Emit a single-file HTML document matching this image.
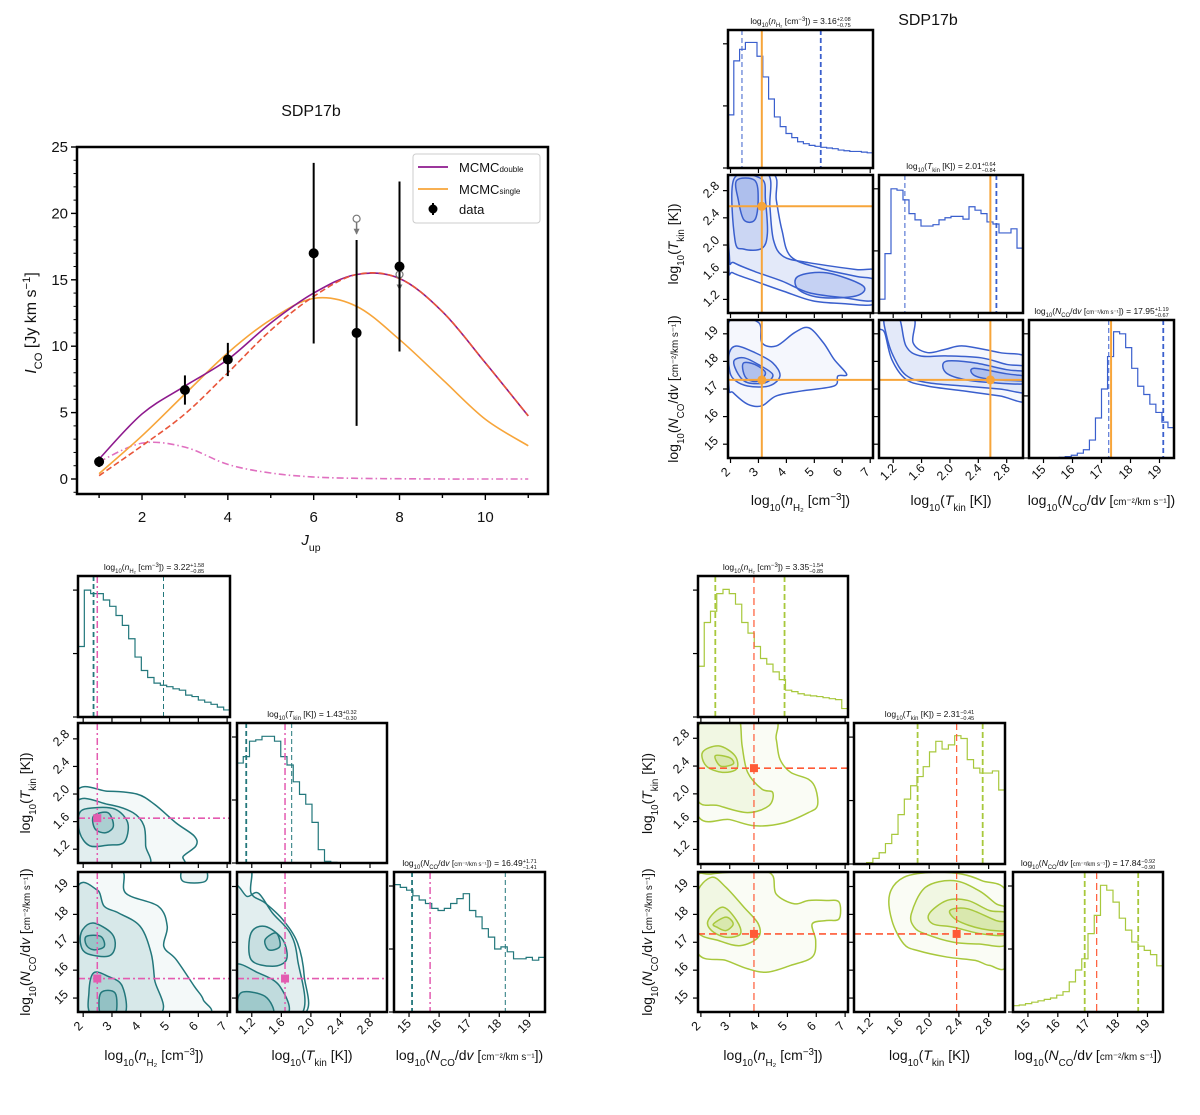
<!DOCTYPE html>
<html><head><meta charset="utf-8">
<style>
html,body{margin:0;padding:0;background:#fff;}
svg{display:block;font-family:"Liberation Sans",sans-serif;}
</style></head>
<body>
<svg id="fig" width="1200" height="1115" viewBox="0 0 1200 1115" xmlns="http://www.w3.org/2000/svg">
<rect width="1200" height="1115" fill="#fff"/>
</svg>
<script>
// ---------- SED chart data ----------
const sedJ = [1,2,3,4,5,6,7,8,9,10,11];
const sedDouble = [1.5,4.9,7.0,9.0,11.75,14.0,15.4,15.1,12.6,8.75,4.75];
const sedHigh = [0.25,2.5,4.9,8.0,11.2,13.75,15.4,15.1,12.6,8.75,4.75];
const sedLow = [1.3,2.7,2.4,1.1,0.45,0.15,0.05,0.02,0,0,0];
const sedSingle = [0.4,3.25,6.4,9.5,12.0,13.6,13.0,10.5,7.5,4.5,2.5];
const dataJ = [1,3,4,6,7,8];
const dataI = [1.3,6.7,9.0,17.0,11.0,16.0];
const dataErr = [0.4,1.1,1.25,6.8,7.0,6.4];
const limJ = [7,8];
const limI = [19.6,15.4];
const sedYTicks = [0,5,10,15,20,25];
const sedXTicks = [2,4,6,8,10];

// ---------- corner data: top-right (blue) ----------
const trHistNH = [0.385,0.776,0.86,0.91,0.91,0.81,0.66,0.5,0.37,0.3,0.25,0.22,0.19,0.176,0.164,0.157,0.15,0.145,0.14,0.13,0.125,0.12,0.12,0.115,0.11];
const trHistT = [0.1,0.43,0.9,0.89,0.82,0.72,0.675,0.63,0.63,0.64,0.675,0.69,0.7,0.7,0.68,0.77,0.745,0.72,0.66,0.645,0.58,0.58,0.61,0.47];
const trHistN = [0,0,0,0,0,0.005,0.01,0.02,0.035,0.06,0.13,0.29,0.5,0.735,0.915,0.9,0.8,0.65,0.52,0.46,0.39,0.33,0.26,0.22];
const trQuant = [[2.41,5.23],[1.365,2.655],[17.25,19.13]];
const trTruth = [3.12,2.57,17.33];
const trC_T_NH = [
 [[1.94,3.05],[3.51,3.05],[3.64,2.66],[3.84,2.22],[4.16,1.83],[5.19,1.66],[6.48,1.54],[7.2,1.47],[7.2,1.14],[5.97,1.14],[4.93,1.18],[3.90,1.32],[2.87,1.47],[2.09,1.59],[1.94,1.69]],
 [[1.96,3.05],[3.32,3.05],[3.41,2.56],[3.54,2.07],[3.90,1.83],[4.80,1.74],[6.48,1.64],[7.2,1.61],[7.2,1.20],[5.97,1.23],[4.80,1.30],[3.84,1.47],[2.87,1.61],[2.12,1.74],[1.96,1.83]],
 [[2.12,2.97],[3.12,2.97],[3.25,2.66],[3.32,2.17],[3.12,1.95],[2.48,1.94],[2.16,2.07]],
 [[4.42,1.54],[5.45,1.59],[6.74,1.40],[6.48,1.25],[5.19,1.23],[4.42,1.35]],
 [[2.22,2.95],[2.87,2.95],[2.99,2.66],[2.87,2.37],[2.48,2.37],[2.28,2.66]]
];
const trC_N_NH = [
 [[1.94,19.42],[2.99,19.42],[3.12,18.68],[3.64,18.56],[4.29,19.04],[4.80,19.22],[5.32,18.68],[5.71,18.07],[6.16,17.53],[5.84,17.47],[5.71,17.11],[4.55,16.93],[3.64,16.75],[3.12,16.39],[2.61,16.45],[2.09,16.87],[1.94,17.11]],
 [[1.96,18.32],[2.22,18.56],[2.87,18.32],[3.51,17.95],[3.77,17.47],[3.38,17.11],[2.61,17.11],[2.12,17.35],[1.96,17.71]],
 [[2.12,18.01],[2.48,18.13],[2.99,17.89],[3.51,17.53],[3.25,17.23],[2.61,17.23],[2.28,17.53]],
 [[2.48,17.95],[2.87,17.89],[3.25,17.59],[2.99,17.29],[2.61,17.35],[2.45,17.65]]
];
const trC_N_T = [
 [[1.0,19.6],[1.48,19.6],[1.48,18.68],[1.68,18.32],[1.94,18.44],[2.19,18.56],[2.70,18.32],[3.1,18.07],[3.1,16.6],[2.70,16.75],[2.19,16.93],[1.68,17.11],[1.38,17.35],[1.18,18.07],[1.08,19.04],[1.0,19.2]],
 [[1.08,19.6],[1.28,19.6],[1.38,18.56],[1.58,18.2],[1.94,18.2],[2.44,18.13],[2.80,17.89],[3.1,17.75],[3.1,16.9],[2.70,17.0],[2.19,17.11],[1.68,17.23],[1.38,17.5],[1.20,18.2],[1.10,19.0]],
 [[1.94,18.0],[2.34,17.95],[2.80,17.7],[3.1,17.6],[3.1,17.2],[2.59,17.23],[2.19,17.35],[1.94,17.6]],
 [[2.34,17.75],[2.80,17.55],[3.1,17.45],[3.1,17.3],[2.59,17.35],[2.34,17.5]]
];

// ---------- corner data: bottom-left (teal) ----------
const blHistNH = [0.5,0.9,0.875,0.875,0.83,0.785,0.72,0.65,0.555,0.425,0.33,0.28,0.24,0.225,0.215,0.2,0.19,0.155,0.145,0.12,0.105,0.09,0.07,0.05];
const blHistT = [0.714,0.76,0.87,0.88,0.905,0.905,0.87,0.76,0.70,0.58,0.49,0.42,0.29,0.095,0.012,0.005,0.002,0,0,0,0,0,0,0];
const blHistN = [0.91,0.89,0.87,0.83,0.8,0.775,0.74,0.725,0.74,0.775,0.81,0.845,0.725,0.68,0.595,0.535,0.45,0.465,0.43,0.38,0.38,0.39,0.37,0.39];
const blQuant = [[2.36,4.79],[1.125,1.74],[15.1,18.2]];
const blTruth = [2.49,1.65,15.7];
const blC_T_NH = [
 [[1.75,2.02],[2.86,2.04],[3.86,2.0],[4.48,1.85],[5.23,1.58],[5.86,1.39],[5.92,1.25],[5.48,1.10],[5.23,0.95],[1.75,0.95]],
 [[1.75,1.87],[2.86,1.85],[3.73,1.73],[4.11,1.54],[4.17,1.25],[4.17,0.95],[1.75,0.95]],
 [[1.88,1.73],[2.36,1.80],[3.11,1.78],[3.55,1.58],[3.42,1.30],[2.86,1.26],[2.23,1.25],[1.88,1.44]],
 [[2.36,1.68],[2.86,1.73],[3.05,1.54],[2.80,1.44],[2.42,1.49]]
];
const blC_N_NH = [
 [[1.75,19.6],[3.30,19.6],[3.48,18.76],[4.61,18.29],[4.92,17.57],[4.80,16.85],[5.23,16.38],[5.86,15.42],[6.17,14.94],[6.11,14.4],[1.75,14.4]],
 [[5.48,19.6],[6.23,19.6],[6.23,19.18],[5.48,19.18]],
 [[1.75,18.76],[2.48,18.88],[2.73,18.29],[3.23,18.05],[3.98,17.57],[4.36,16.61],[4.48,15.66],[4.61,14.4],[1.75,14.4]],
 [[1.98,17.45],[2.36,17.69],[2.98,17.33],[3.11,16.85],[2.86,16.5],[2.11,16.61],[1.9,17.0]],
 [[2.36,15.9],[2.86,15.78],[3.36,15.42],[3.42,14.4],[2.3,14.4],[2.2,15.2]],
 [[2.11,17.21],[2.61,17.21],[2.73,16.85],[2.36,16.73],[2.11,16.9]],
 [[2.61,15.18],[3.11,15.18],[3.11,14.4],[2.61,14.4]]
];
const blC_N_T = [
 [[0.95,19.6],[1.19,19.6],[1.19,18.76],[1.38,18.41],[1.62,17.81],[1.82,16.97],[1.91,15.78],[1.89,14.4],[0.95,14.4]],
 [[0.95,18.76],[1.14,18.64],[1.29,18.76],[1.48,18.05],[1.72,17.33],[1.82,16.38],[1.86,14.4],[0.95,14.4]],
 [[1.19,17.33],[1.38,17.57],[1.62,17.09],[1.67,16.38],[1.48,16.14],[1.19,16.38]],
 [[0.95,16.14],[1.29,15.9],[1.58,15.42],[1.67,14.4],[0.95,14.4]],
 [[1.38,17.09],[1.53,17.33],[1.58,16.85],[1.43,16.73]],
 [[1.05,15.18],[1.38,15.06],[1.48,14.4],[1.05,14.4]]
];

// ---------- corner data: bottom-right (green) ----------
const brHistNH = [0.36,0.67,0.75,0.875,0.905,0.875,0.80,0.67,0.595,0.5,0.415,0.375,0.32,0.265,0.19,0.18,0.165,0.155,0.15,0.145,0.137,0.13,0.123,0.06];
const brHistT = [0,0,0.01,0.04,0.08,0.145,0.21,0.35,0.46,0.555,0.62,0.69,0.795,0.87,0.815,0.845,0.91,0.89,0.74,0.68,0.645,0.645,0.66,0.525];
const brHistN = [0.045,0.05,0.06,0.07,0.08,0.09,0.1,0.12,0.145,0.215,0.3,0.38,0.56,0.69,0.905,0.87,0.785,0.67,0.585,0.5,0.47,0.44,0.41,0.33];
const brQuant = [[2.5,4.9],[1.845,2.72],[16.9,18.69]];
const brTruth = [3.84,2.37,17.3];
const brC_T_NH = [
 [[1.85,3.1],[4.43,3.1],[4.61,2.79],[4.74,2.5],[5.11,2.31],[5.73,2.21],[5.98,2.07],[6.04,1.83],[5.73,1.73],[4.86,1.58],[3.87,1.54],[3.0,1.63],[1.85,1.73]],
 [[1.85,2.93],[2.75,3.1],[3.31,3.1],[3.43,2.69],[3.62,2.31],[4.11,2.07],[4.49,2.02],[4.36,1.83],[3.62,1.73],[2.62,1.83],[1.85,1.95]],
 [[2.06,2.60],[2.62,2.69],[3.18,2.55],[3.24,2.36],[2.75,2.31],[2.19,2.40]],
 [[2.5,2.55],[3.0,2.52],[3.12,2.43],[2.68,2.40]]
];
const brC_N_NH = [
 [[1.85,19.21],[2.37,19.45],[3.99,19.55],[4.49,19.39],[4.61,18.73],[5.23,18.38],[5.73,18.5],[6.35,18.5],[6.79,18.44],[6.79,17.84],[6.35,17.78],[5.86,17.66],[5.98,17.06],[5.86,16.47],[5.11,16.17],[4.30,15.93],[3.62,16.05],[2.87,16.35],[1.85,16.7]],
 [[1.85,18.73],[2.37,19.33],[2.87,18.97],[3.49,18.26],[3.99,17.66],[3.99,17.18],[3.37,16.88],[2.62,17.06],[1.85,17.42]],
 [[2.25,17.78],[2.75,18.26],[3.24,17.78],[3.37,17.3],[2.87,17.18],[2.37,17.42]],
 [[2.44,17.66],[2.87,17.9],[3.12,17.66],[2.87,17.42],[2.56,17.54]]
];
const brC_N_T = [
 [[1.47,18.73],[1.66,19.33],[2.05,19.51],[2.43,19.45],[2.71,19.21],[3.05,18.73],[3.05,16.23],[2.81,16.17],[2.62,16.35],[2.24,16.47],[1.85,16.7],[1.66,16.94],[1.50,17.78]],
 [[1.76,18.02],[1.95,18.97],[2.33,19.21],[2.67,18.85],[2.90,18.38],[3.05,18.14],[3.05,16.94],[2.67,16.94],[2.33,17.0],[1.95,17.3],[1.80,17.54]],
 [[2.0,18.02],[2.24,18.5],[2.52,18.5],[2.81,18.14],[3.05,18.02],[3.05,17.3],[2.71,17.3],[2.33,17.54],[2.05,17.66]],
 [[2.28,18.14],[2.52,18.2],[2.90,17.78],[3.05,17.72],[3.05,17.42],[2.71,17.48],[2.38,17.78]]
];

const ticksNH = [2,3,4,5,6,7];
const ticksT = [1.2,1.6,2.0,2.4,2.8];
const ticksN = [15,16,17,18,19];
const tickLabelsT = ['1.2','1.6','2.0','2.4','2.8'];

// ---------- helpers ----------
const NS = 'http://www.w3.org/2000/svg';
const svg = document.getElementById('fig');
function mk(tag, parent, attrs){
  const e = document.createElementNS(NS, tag);
  for (const k in attrs) e.setAttribute(k, attrs[k]);
  parent.appendChild(e);
  return e;
}
function crPath(pts, closed){
  const n = pts.length;
  if (n < 2) return '';
  let d = 'M' + pts[0][0].toFixed(2) + ',' + pts[0][1].toFixed(2);
  const get = i => closed ? pts[(i + n) % n] : pts[Math.max(0, Math.min(n - 1, i))];
  const last = closed ? n : n - 1;
  for (let i = 0; i < last; i++){
    const p0 = get(i - 1), p1 = get(i), p2 = get(i + 1), p3 = get(i + 2);
    const c1 = [p1[0] + (p2[0] - p0[0]) / 6, p1[1] + (p2[1] - p0[1]) / 6];
    const c2 = [p2[0] - (p3[0] - p1[0]) / 6, p2[1] - (p3[1] - p1[1]) / 6];
    d += 'C' + c1[0].toFixed(2) + ',' + c1[1].toFixed(2) + ' ' + c2[0].toFixed(2) + ',' + c2[1].toFixed(2) + ' ' + p2[0].toFixed(2) + ',' + p2[1].toFixed(2);
  }
  return d + (closed ? 'Z' : '');
}
function lin(d0, d1, r0, r1){ return v => r0 + (v - d0) / (d1 - d0) * (r1 - r0); }
let clipId = 0;
function clipFor(x0, y0, x1, y1){
  let defs = svg.querySelector('defs');
  if (!defs) defs = mk('defs', svg, {});
  const id = 'clip' + (clipId++);
  const cp = mk('clipPath', defs, {id: id});
  mk('rect', cp, {x: x0, y: y0, width: x1 - x0, height: y1 - y0});
  return 'url(#' + id + ')';
}
const SUB = s => '<tspan baseline-shift="sub" font-size="70%">' + s + '</tspan>';
const SUP = s => '<tspan baseline-shift="super" font-size="70%">' + s + '</tspan>';
const labNH = 'log' + SUB('10') + '(<tspan font-style="italic">n</tspan>' + SUB('H₂') + ' [cm' + SUP('−3') + '])';
const labT = 'log' + SUB('10') + '(<tspan font-style="italic">T</tspan>' + SUB('kin') + ' [K])';
const labN = 'log' + SUB('10') + '(<tspan font-style="italic">N</tspan>' + SUB('CO') + '/d<tspan font-style="italic">v</tspan> [' + '<tspan font-size="70%">cm⁻²/km s⁻¹</tspan>' + '])';
const labels = [labNH, labT, labN];

// ---------- SED chart ----------
(function(){
  const X0 = 77, X1 = 548, Y0 = 147, Y1 = 494;
  const sx = lin(0.485, 11.46, X0, X1);
  const sy = lin(0, 25, 479, 147);
  const g = mk('g', svg, {});
  
  
  const t = mk('text', g, {x: 311, y: 116, 'text-anchor': 'middle', 'font-size': 16, fill: '#111'});
  
  
  t.textContent = 'SDP17b';
  const clip = clipFor(X0, Y0, X1, Y1);
  const plot = mk('g', g, {'clip-path': clip});
  
  
  function curve(vals, color, w, dash, name){
    const pts = sedJ.map((j, i) => [sx(j), sy(vals[i])]);
    const p = mk('path', plot, {d: crPath(pts, false), fill: 'none', stroke: color, 'stroke-width': w});
    if (dash) p.setAttribute('stroke-dasharray', dash);
    
    
  }
  curve(sedLow, '#e070c0', 1.6, '7,3,1.5,3', 'low-excitation-component');
  curve(sedSingle, '#f7a53a', 1.6, null, 'mcmc-single-line');
  curve(sedDouble, '#8e1a8e', 1.6, null, 'mcmc-double-line');
  curve(sedHigh, '#e8553a', 1.6, '6,3', 'high-excitation-component');
  limJ.forEach((j, i) => {
    const x = sx(j), y = sy(limI[i]);
    const gg = mk('g', plot, {});
    
    
    mk('line', gg, {x1: x, y1: y + 3, x2: x, y2: y + 15, stroke: '#777', 'stroke-width': 1.5});
    mk('path', gg, {d: 'M' + (x - 3) + ',' + (y + 10) + 'L' + (x + 3) + ',' + (y + 10) + 'L' + x + ',' + (y + 16) + 'Z', fill: '#777'});
    mk('circle', gg, {cx: x, cy: y, r: 3.5, fill: '#fff', stroke: '#777', 'stroke-width': 1.2});
  });
  dataJ.forEach((j, i) => {
    const gg = mk('g', plot, {});
    
    
    mk('line', gg, {x1: sx(j), x2: sx(j), y1: sy(dataI[i] - dataErr[i]), y2: sy(dataI[i] + dataErr[i]), stroke: '#000', 'stroke-width': 2});
    mk('circle', gg, {cx: sx(j), cy: sy(dataI[i]), r: 5, fill: '#000'});
  });
  const fr = mk('rect', g, {x: X0, y: Y0, width: X1 - X0, height: Y1 - Y0, fill: 'none', stroke: '#000', 'stroke-width': 2.5});
  
  
  for (let v = -1; v <= 25; v++){
    const major = v % 5 === 0;
    mk('line', g, {x1: X0 - 1, x2: X0 - (major ? 6 : 3.5), y1: sy(v), y2: sy(v), stroke: '#000', 'stroke-width': major ? 1.4 : 1});
  }
  sedYTicks.forEach(v => {
    const tl = mk('text', g, {x: 68, y: sy(v) + 5, 'text-anchor': 'end', 'font-size': 15, fill: '#111'});
    
    
    tl.textContent = v;
  });
  for (let j = 1; j <= 11; j++){
    mk('line', g, {x1: sx(j), x2: sx(j), y1: Y1 + 1, y2: Y1 + (j % 2 === 0 ? 6 : 4), stroke: '#000', 'stroke-width': 1.4});
  }
  sedXTicks.forEach(v => {
    const tl = mk('text', g, {x: sx(v), y: 522, 'text-anchor': 'middle', 'font-size': 15, fill: '#111'});
    
    
    tl.textContent = v;
  });
  const xl = mk('text', g, {x: 311, y: 545, 'text-anchor': 'middle', 'font-size': 15, fill: '#111'});
  
  
  xl.innerHTML = '<tspan font-style="italic">J</tspan>' + SUB('up');
  const yl = mk('text', g, {x: 0, y: 0, transform: 'translate(36,323) rotate(-90)', 'text-anchor': 'middle', 'font-size': 16, fill: '#111'});
  
  
  yl.innerHTML = '<tspan font-style="italic">I</tspan>' + SUB('CO') + ' [Jy km s' + SUP('−1') + ']';
  const lg = mk('g', g, {});
  
  
  mk('rect', lg, {x: 413, y: 154, width: 127, height: 69, rx: 3, fill: '#fff', stroke: '#ccc', 'stroke-width': 1});
  const entries = [['#8e1a8e', 'MCMC', 'double'], ['#f7a53a', 'MCMC', 'single']];
  entries.forEach((e, i) => {
    const y = 167 + i * 22;
    const le = mk('g', lg, {});
    
    
    mk('line', le, {x1: 418, x2: 448, y1: y, y2: y, stroke: e[0], 'stroke-width': 1.8});
    const tx = mk('text', le, {x: 459, y: y + 5, 'font-size': 13, fill: '#111'});
    tx.innerHTML = e[1] + '<tspan font-size="8">' + e[2] + '</tspan>';
  });
  const le = mk('g', lg, {});
  
  
  mk('line', le, {x1: 433, x2: 433, y1: 203, y2: 215, stroke: '#000', 'stroke-width': 2});
  mk('circle', le, {cx: 433, cy: 209, r: 4.5, fill: '#000'});
  const tx = mk('text', le, {x: 459, y: 214, 'font-size': 13, fill: '#111'});
  tx.textContent = 'data';
})();

// ---------- corner plots ----------
const corners = [
  {id: 'top-right', cols: [[728,873],[879,1023],[1029,1174]], rows: [[30,168],[175,313],[320,458]],
   ranges: [[1.91,7.1],[1.0,3.03],[14.5,19.5]], hists: [trHistNH, trHistT, trHistN], quant: trQuant, truth: trTruth,
   contours: [trC_T_NH, trC_N_NH, trC_N_T], line: '#3a5fcd', fill: '60,100,215', qDash: '5,3', qW: 1.1, qW2: [1,1.8],
   tColor: '#f7a53a', tDash: null, tW: 2, marker: 'circle',
   titles: [' = 3.16' , ' = 2.01', ' = 17.95'], errs: [['+2.08','−0.75'],['+0.64','−0.84'],['+1.19','−0.67']],
   yLabX: 678, xLabY: 505, title: true},
  {id: 'bottom-left', cols: [[78,230],[237,387],[394,545]], rows: [[576,717],[723,863],[872,1012]],
   ranges: [[1.82,7.1],[1.0,3.03],[14.5,19.52]], hists: [blHistNH, blHistT, blHistN], quant: blQuant, truth: blTruth,
   contours: [blC_T_NH, blC_N_NH, blC_N_T], line: '#22777b', fill: '40,135,140', qDash: '5,3', qW: 1.6, qW2: [1.8,1],
   tColor: '#e35bb0', tDash: '7,3,2,3', tW: 1.5, marker: 'square',
   titles: [' = 3.22', ' = 1.43', ' = 16.49'], errs: [['+1.58','−0.85'],['+0.32','−0.30'],['+1.71','−1.41']],
   yLabX: 30, xLabY: 1060},
  {id: 'bottom-right', cols: [[698,848],[854,1005],[1013,1163]], rows: [[576,717],[723,864],[872,1012]],
   ranges: [[1.9,7.1],[0.99,3.02],[14.5,19.52]], hists: [brHistNH, brHistT, brHistN], quant: brQuant, truth: brTruth,
   contours: [brC_T_NH, brC_N_NH, brC_N_T], line: '#a8c83c', fill: '160,200,50', qDash: '6,3', qW: 1.8, qW2: [1.8,1.8],
   tColor: '#ff5a36', tDash: '7,4', tW: 1.2, marker: 'square',
   titles: [' = 3.35', ' = 2.31', ' = 17.84'], errs: [['−1.54','−0.85'],['−0.41','−0.45'],['−0.92','−0.90']],
   yLabX: 652, xLabY: 1060}
];
const tickSets = [ticksNH, ticksT, ticksN];
const tickText = [ticksNH.map(String), tickLabelsT, ticksN.map(String)];

corners.forEach(c => {
  const G = mk('g', svg, {});
  
  
  const sxs = [0,1,2].map(i => lin(c.ranges[i][0], c.ranges[i][1], c.cols[i][0], c.cols[i][1]));
  const sys = [0,1,2].map(i => lin(c.ranges[i][0], c.ranges[i][1], c.rows[i][1], c.rows[i][0]));
  if (c.title){
    const t = mk('text', G, {x: 928, y: 25, 'text-anchor': 'middle', 'font-size': 16, fill: '#111'});
    
    
    t.textContent = 'SDP17b';
  }
  for (let r = 0; r < 3; r++){
    for (let col = 0; col <= r; col++){
      const [x0, x1] = c.cols[col], [y0, y1] = c.rows[r];
      const P = mk('g', G, {});
      
      
      const inner = mk('g', P, {'clip-path': clipFor(x0, y0, x1, y1)});
      const sx = sxs[col];
      if (r === col){
        const vals = c.hists[col];
        const [a, b] = c.ranges[col];
        const w = (b - a) / vals.length;
        const hy = v => y1 - v * (y1 - y0);
        let d = 'M' + sx(a) + ',' + y1;
        vals.forEach((v, i) => { d += 'L' + sx(a + i * w) + ',' + hy(v) + 'L' + sx(a + (i + 1) * w) + ',' + hy(v); });
        d += 'L' + sx(b) + ',' + y1;
        const hp = mk('path', inner, {d: d, fill: 'none', stroke: c.line, 'stroke-width': 1.2});
        
        
        c.quant[col].forEach((q, qi) => {
          const ql = mk('line', inner, {x1: sx(q), x2: sx(q), y1: y0, y2: y1, stroke: c.line, 'stroke-width': c.qW2[qi], 'stroke-dasharray': c.qDash});
          
          
        });
        const tl = mk('line', inner, {x1: sx(c.truth[col]), x2: sx(c.truth[col]), y1: y0, y2: y1, stroke: c.tColor, 'stroke-width': c.tW});
        if (c.tDash) tl.setAttribute('stroke-dasharray', c.tDash);
        
        
        const ht = mk('text', P, {x: (x0 + x1) / 2, y: y0 - 6, 'text-anchor': 'middle', 'font-size': 8.5, fill: '#111'});
        
        
        ht.innerHTML = labels[col] + c.titles[col] + '<tspan baseline-shift="super" font-size="65%">' + c.errs[col][0] + '</tspan><tspan dx="-14" baseline-shift="sub" font-size="65%">' + c.errs[col][1] + '</tspan>';
        [0, 0.45, 0.9].forEach(f => mk('line', P, {x1: x0 - 1, x2: x0 - 5, y1: y1 - f * (y1 - y0), y2: y1 - f * (y1 - y0), stroke: '#000', 'stroke-width': 1.2}));
      } else {
        const sy = sys[r];
        const polys = c.contours[r === 1 ? 0 : (col === 0 ? 1 : 2)];
        const alphas = [0.05, 0.09, 0.14, 0.18, 0.2, 0.22, 0.24];
        polys.forEach((poly, pi) => {
          const pts = poly.map(p => [sx(p[0]), sy(p[1])]);
          const cp = mk('path', inner, {d: crPath(pts, true), fill: 'rgba(' + c.fill + ',' + alphas[Math.min(pi, 6)] + ')', stroke: c.line, 'stroke-width': 1.5});
          
          
        });
        const tx = sx(c.truth[col]), ty = sy(c.truth[r]);
        const vl = mk('line', inner, {x1: tx, x2: tx, y1: y0, y2: y1, stroke: c.tColor, 'stroke-width': c.tW});
        if (c.tDash) vl.setAttribute('stroke-dasharray', c.tDash);
        
        
        const hl = mk('line', inner, {x1: x0, x2: x1, y1: ty, y2: ty, stroke: c.tColor, 'stroke-width': c.id === 'top-right' ? 2 : 1.6});
        if (c.tDash) hl.setAttribute('stroke-dasharray', c.tDash);
        
        
        const mkr = c.marker === 'circle' ? mk('circle', inner, {cx: tx, cy: ty, r: 4.5, fill: c.tColor}) : mk('rect', inner, {x: tx - 4, y: ty - 4, width: 8, height: 8, fill: c.tColor});
        
        
        tickSets[r].forEach((v, ti) => {
          mk('line', P, {x1: x0 - 1, x2: x0 - 5, y1: sy(v), y2: sy(v), stroke: '#000', 'stroke-width': 1.2});
          if (col === 0){
            const yt = mk('text', P, {x: 0, y: 0, transform: 'translate(' + (x0 - 14) + ',' + (sy(v) + 2) + ') rotate(-45)', 'text-anchor': 'middle', 'font-size': 12.5, fill: '#111'});
            
            
            yt.textContent = tickText[r][ti];
          }
        });
        if (col === 0){
          const yl = mk('text', P, {x: 0, y: 0, transform: 'translate(' + c.yLabX + ',' + ((y0 + y1) / 2) + ') rotate(-90)', 'text-anchor': 'middle', 'font-size': 14, fill: '#111'});
          
          
          yl.innerHTML = labels[r];
        }
      }
      tickSets[col].forEach((v, ti) => {
        mk('line', P, {x1: sx(v), x2: sx(v), y1: y1 + 1, y2: y1 + 5, stroke: '#000', 'stroke-width': 1.2});
        if (r === 2){
          const xt = mk('text', P, {x: 0, y: 0, transform: 'translate(' + (sx(v) - 2) + ',' + (y1 + 17) + ') rotate(-45)', 'text-anchor': 'middle', 'font-size': 12.5, fill: '#111'});
          
          
          xt.textContent = tickText[col][ti];
        }
      });
      if (r === 2){
        const xl = mk('text', P, {x: (x0 + x1) / 2, y: c.xLabY, 'text-anchor': 'middle', 'font-size': 14, fill: '#111'});
        
        
        xl.innerHTML = labels[col];
      }
      const fr = mk('rect', P, {x: x0, y: y0, width: x1 - x0, height: y1 - y0, fill: 'none', stroke: '#000', 'stroke-width': 2.5});
      
      
    }
  }
});
</script>
</body></html>
